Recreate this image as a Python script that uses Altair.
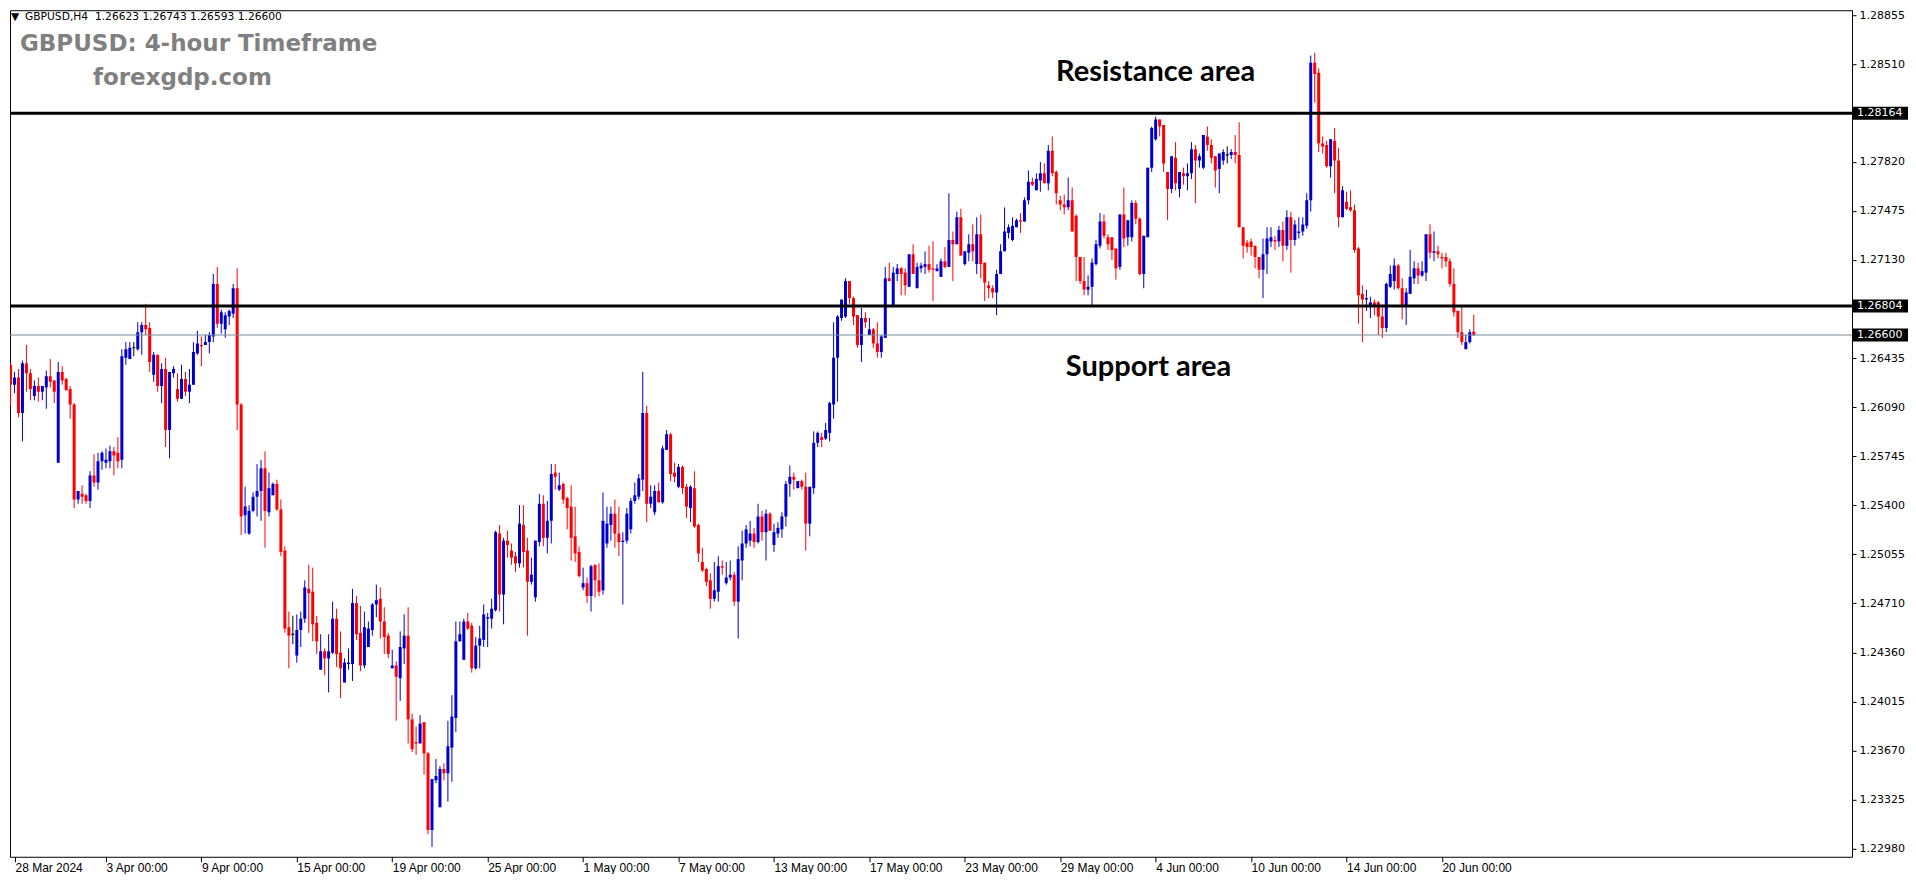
import altair as alt
import pandas as pd

# ---- candle data: pips above 1.2000 (value / 10000 + 1.2 = price) ----
OPEN = [
    639, 625, 630, 605, 640, 633, 617, 624, 620, 623,
    631, 628, 570, 634, 629, 622, 611, 544, 548, 547,
    543, 561, 556, 571, 570, 571, 578, 577, 572, 644,
    643, 651, 650, 662, 667, 665, 632, 646, 624, 636,
    593, 633, 622, 615, 629, 620, 625, 647, 653, 653,
    655, 659, 696, 668, 664, 673, 675, 693, 611, 533,
    520, 536, 546, 550, 566, 535, 547, 555, 537, 508,
    454, 449, 434, 452, 460, 481, 479, 457, 424, 437,
    432, 436, 460, 436, 415, 428, 428, 471, 450, 427,
    440, 452, 470, 474, 458, 448, 425, 427, 418, 439,
    448, 389, 373, 372, 387, 365, 311, 346, 327, 354,
    351, 369, 390, 444, 431, 458, 455, 425, 441, 445,
    460, 460, 466, 520, 477, 515, 508, 504, 499, 526,
    508, 486, 475, 514, 541, 517, 529, 563, 551, 555,
    545, 539, 518, 507, 482, 485, 476, 498, 487, 480,
    513, 526, 534, 520, 514, 515, 523, 543, 546, 558,
    605, 541, 535, 550, 542, 579, 590, 563, 553, 567,
    553, 538, 552, 526, 500, 495, 487, 474, 479, 497,
    485, 489, 491, 472, 501, 513, 515, 520, 514, 532,
    521, 534, 512, 520, 523, 532, 555, 560, 552, 557,
    553, 527, 552, 584, 588, 587, 591, 611, 644, 672,
    673, 698, 686, 674, 653, 672, 660, 664, 654, 648,
    658, 700, 680, 703, 707, 704, 694, 717, 693, 707,
    708, 710, 707, 705, 701, 712, 708, 727, 724, 743,
    710, 718, 724, 710, 731, 711, 695, 693, 690, 703,
    719, 732, 727, 736, 741, 740, 755, 768, 762, 769,
    774, 767, 790, 775, 755, 752, 750, 755, 744, 715,
    698, 692, 694, 710, 723, 740, 729, 729, 721, 708,
    745, 729, 729, 753, 742, 703, 729, 778, 798, 812,
    808, 775, 763, 785, 763, 774, 772, 774, 791, 783,
    778, 800, 794, 786, 777, 783, 787, 787, 789, 787,
    736, 725, 726, 723, 715, 706, 717, 726, 727, 726,
    734, 723, 743, 727, 732, 733, 737, 755, 852, 845,
    795, 794, 779, 797, 783, 743, 754, 750, 748, 721,
    689, 685, 681, 683, 683, 673, 665, 694, 698, 709,
    693, 680, 689, 700, 707, 702, 704, 731, 718, 719,
    715, 715, 712, 696, 677, 662, 650, 655, 662.3,
]
HIGH = [
    640, 634, 636, 642, 653, 636, 628, 630, 624, 635,
    643, 628, 641, 638, 630, 624, 612, 550, 554, 548,
    564, 576, 577, 578, 580, 582, 581, 588, 650, 655,
    655, 655, 669, 669, 682, 669, 648, 646, 640, 644,
    634, 638, 633, 639, 634, 636, 655, 663, 659, 660,
    662, 703, 708, 678, 676, 678, 696, 707, 612, 553,
    540, 549, 569, 572, 578, 563, 556, 558, 544, 511,
    465, 462, 463, 465, 487, 498, 496, 462, 449, 439,
    449, 472, 467, 451, 432, 439, 481, 476, 469, 465,
    458, 471, 484, 482, 468, 450, 438, 430, 451, 463,
    468, 393, 384, 392, 387, 366, 347, 361, 356, 358,
    388, 406, 458, 458, 460, 464, 457, 447, 455, 470,
    464, 474, 522, 526, 517, 522, 513, 507, 540, 540,
    517, 503, 515, 548, 547, 543, 569, 569, 563, 556,
    546, 554, 539, 511, 496, 489, 498, 498, 499, 549,
    539, 539, 544, 539, 521, 538, 545, 556, 562, 634,
    610, 554, 554, 556, 582, 593, 591, 570, 569, 568,
    555, 554, 564, 527, 510, 496, 492, 500, 504, 501,
    500, 501, 493, 511, 522, 526, 529, 524, 541, 536,
    537, 535, 527, 528, 535, 557, 568, 563, 557, 558,
    563, 553, 592, 592, 591, 598, 613, 669, 674, 685,
    700, 698, 687, 674, 679, 676, 672, 665, 669, 660,
    708, 711, 708, 710, 708, 707, 717, 724, 711, 711,
    719, 723, 726, 710, 714, 722, 760, 733, 747, 749,
    719, 731, 738, 743, 745, 711, 698, 695, 706, 724,
    750, 738, 743, 742, 746, 757, 776, 771, 774, 782,
    781, 794, 800, 776, 758, 759, 771, 764, 745, 715,
    715, 702, 714, 727, 746, 745, 731, 729, 721, 745,
    764, 741, 755, 755, 743, 730, 778, 807, 814, 812,
    808, 775, 786, 796, 775, 778, 781, 796, 794, 788,
    801, 807, 798, 786, 788, 791, 793, 791, 801, 810,
    736, 727, 728, 723, 715, 728, 736, 736, 730, 737,
    740, 748, 747, 741, 743, 743, 760, 857, 859, 848,
    800, 797, 798, 806, 792, 765, 761, 762, 752, 722,
    695, 692, 687, 685, 684, 680, 697, 709, 714, 710,
    700, 693, 720, 712, 711, 712, 731, 738, 733, 723,
    718, 718, 714, 707, 677, 681, 660, 664, 674.3,
]
LOW = [
    610, 619, 602, 585, 620, 614, 614, 613, 614, 608,
    623, 612, 570, 625, 621, 601, 538, 541, 541, 541,
    538, 553, 551, 565, 566, 566, 561, 566, 566, 639,
    643, 645, 649, 646, 660, 634, 627, 620, 612, 581,
    573, 630, 613, 615, 617, 612, 625, 646, 638, 653,
    647, 655, 665, 661, 658, 667, 672, 593, 519, 520,
    519, 535, 532, 529, 510, 532, 547, 536, 504, 450,
    425, 442, 429, 440, 457, 450, 444, 435, 424, 420,
    408, 435, 426, 404, 415, 424, 416, 445, 423, 425,
    440, 448, 461, 446, 435, 432, 425, 388, 402, 428,
    372, 366, 364, 372, 350, 308, 299, 344, 327, 346,
    331, 345, 380, 444, 431, 452, 422, 424, 425, 440,
    440, 453, 465, 465, 456, 503, 498, 493, 496, 496,
    448, 484, 472, 511, 511, 506, 513, 551, 550, 541,
    523, 501, 500, 489, 480, 471, 465, 475, 476, 477,
    510, 515, 510, 504, 470, 513, 520, 541, 544, 550,
    528, 538, 533, 542, 541, 579, 557, 556, 552, 548,
    531, 528, 524, 500, 493, 483, 467, 472, 472, 491,
    484, 487, 469, 446, 487, 510, 511, 510, 513, 515,
    501, 522, 507, 517, 517, 525, 546, 551, 552, 551,
    508, 518, 548, 581, 581, 586, 585, 601, 613, 670,
    672, 682, 667, 651, 641, 665, 660, 651, 644, 644,
    658, 698, 680, 698, 688, 688, 694, 703, 693, 704,
    703, 704, 684, 705, 701, 707, 708, 698, 724, 716,
    709, 712, 712, 703, 700, 684, 686, 686, 674, 703,
    719, 728, 726, 736, 732, 740, 752, 765, 762, 761,
    767, 762, 772, 752, 748, 745, 748, 733, 698, 696,
    688, 688, 681, 709, 721, 728, 720, 713, 699, 706,
    722, 723, 726, 738, 702, 693, 729, 775, 797, 800,
    775, 741, 760, 762, 757, 766, 762, 770, 753, 778,
    777, 790, 781, 764, 760, 780, 781, 784, 781, 736,
    714, 718, 716, 707, 700, 686, 703, 722, 720, 722,
    712, 720, 704, 723, 728, 730, 735, 747, 824, 789,
    788, 778, 771, 760, 736, 743, 748, 747, 718, 668,
    655, 677, 672, 674, 660, 658, 662, 693, 692, 692,
    671, 667, 689, 696, 696, 701, 698, 714, 712, 714,
    707, 708, 694, 673, 658, 653, 650, 654, 659.3,
]
CLOSE = [
    625, 630, 605, 640, 633, 622, 624, 620, 624, 631,
    627, 620, 634, 628, 621, 611, 544, 550, 546, 543,
    561, 556, 571, 577, 572, 578, 575, 571, 645, 650,
    651, 651, 662, 667, 664, 641, 646, 624, 636, 593,
    634, 636, 615, 629, 620, 625, 648, 654, 652, 655,
    660, 696, 668, 676, 674, 677, 693, 611, 532, 539,
    536, 546, 550, 566, 536, 552, 555, 537, 507, 453,
    448, 449, 452, 460, 482, 478, 456, 444, 437, 432,
    437, 460, 435, 425, 429, 429, 471, 449, 427, 454,
    453, 470, 473, 458, 447, 435, 427, 419, 440, 448,
    389, 368, 372, 386, 365, 311, 347, 349, 354, 351,
    370, 391, 444, 449, 458, 453, 425, 441, 446, 463,
    461, 467, 521, 477, 515, 512, 503, 499, 527, 507,
    486, 491, 515, 541, 517, 529, 562, 560, 554, 544,
    538, 517, 506, 490, 485, 476, 497, 487, 479, 529,
    527, 534, 520, 514, 515, 534, 543, 547, 559, 605,
    541, 546, 550, 542, 580, 590, 562, 560, 567, 552,
    539, 553, 525, 506, 494, 486, 474, 480, 497, 496,
    489, 491, 472, 502, 513, 523, 520, 514, 532, 521,
    534, 522, 521, 524, 532, 555, 560, 558, 557, 553,
    527, 553, 584, 591, 586, 593, 612, 644, 673, 685,
    698, 686, 673, 653, 672, 669, 664, 654, 648, 659,
    700, 698, 704, 707, 703, 695, 717, 703, 708, 709,
    710, 706, 706, 707, 712, 708, 727, 724, 743, 716,
    719, 724, 719, 731, 710, 697, 693, 690, 703, 719,
    733, 736, 737, 741, 740, 755, 768, 766, 770, 774,
    767, 790, 774, 760, 752, 750, 755, 733, 715, 698,
    692, 694, 711, 724, 740, 730, 724, 720, 707, 745,
    728, 741, 753, 742, 703, 730, 778, 806, 812, 807,
    781, 763, 786, 767, 775, 772, 774, 791, 783, 786,
    801, 794, 785, 776, 788, 789, 787, 789, 787, 736,
    723, 722, 722, 715, 706, 717, 728, 729, 726, 734,
    723, 743, 727, 738, 733, 738, 755, 852, 844, 795,
    793, 779, 798, 783, 743, 762, 749, 748, 720, 688,
    685, 686, 683, 681, 673, 665, 696, 703, 709, 693,
    680, 690, 701, 707, 702, 705, 731, 718, 719, 717,
    714, 712, 696, 676, 662, 655, 655, 662, 660.0,
]

DATE_TICKS = [0, 24, 48, 72, 96, 120, 144, 168, 192, 216, 240, 264, 288, 312, 336, 360]
DATE_LABELS = ["28 Mar 2024", "3 Apr 00:00", "9 Apr 00:00", "15 Apr 00:00", "19 Apr 00:00",
               "25 Apr 00:00", "1 May 00:00", "7 May 00:00", "13 May 00:00", "17 May 00:00",
               "23 May 00:00", "29 May 00:00", "4 Jun 00:00", "10 Jun 00:00", "14 Jun 00:00",
               "20 Jun 00:00"]
PRICE_TICKS = [1.28855, 1.28510, 1.27820, 1.27475, 1.27130, 1.26435, 1.26090, 1.25745,
               1.25400, 1.25055, 1.24710, 1.24360, 1.24015, 1.23670, 1.23325, 1.22980]
LEVELS = [1.28164, 1.26804]          # resistance, support
ANN_TEXT = ["Resistance area", "Support area"]
ANN_I = [288.0, 286.2]
ANN_P = [1.28388, 1.26309]

n = len(CLOSE)
assert len(OPEN) == n and len(HIGH) == n and len(LOW) == n, (len(OPEN), len(HIGH), len(LOW), n)

rows = []
for i in range(n):
    o = 1.2 + OPEN[i] / 10000
    c = 1.2 + CLOSE[i] / 10000
    h = max(1.2 + HIGH[i] / 10000, o, c)
    l = min(1.2 + LOW[i] / 10000, o, c)
    top, bot = max(o, c), min(o, c)
    if top - bot < 0.00008:
        mid = (top + bot) / 2
        top, bot = mid + 0.00004, mid - 0.00004
    d = "up" if c > o else ("down" if c < o else "doji")
    rows.append(dict(i=i, o=o, h=h, l=l, c=c, btop=top, bbot=bot, dir=d))
df = pd.DataFrame(rows)

last = df.iloc[-1]
CURRENT = round(last["c"], 5)
header = "GBPUSD,H4\u00a0\u00a0" + " ".join(f"{last[k]:.5f}" for k in ["o", "h", "l", "c"])

W, H = 1843, 847
PX_PER_UNIT = 14190.0                      # pixels per 1.0 of price
YMAX = 1.28890
YMIN = YMAX - H / PX_PER_UNIT
XMIN = 1.125                               # 4 px per candle
XMAX = XMIN + W / 4

ticks = [max(t, XMIN) for t in DATE_TICKS]
xs = alt.Scale(domain=[XMIN, XMAX], nice=False, zero=False)
ys = alt.Scale(domain=[YMIN, YMAX], nice=False, zero=False)
labels_js = "[" + ",".join("'" + s + "'" for s in DATE_LABELS) + "]"
xaxis = alt.Axis(values=ticks, labelExpr=labels_js + "[round(datum.value / 24)]",
                 title=None, grid=False, domain=False, tickSize=5, tickColor="black",
                 labelAlign="left", labelBaseline="top", labelPadding=1,
                 labelFont="Liberation Sans", labelFontSize=12, labelColor="black",
                 labelFlush=False, labelOverlap=False)
yaxis = alt.Axis(orient="right", values=PRICE_TICKS, format=".5f", title=None, grid=False,
                 domain=False, tickSize=4, tickColor="black", labelPadding=3,
                 labelFont="DejaVu Sans", labelFontSize=11, labelColor="black",
                 labelFlush=False, labelOverlap=False)

cscale = alt.Scale(domain=["up", "down", "doji"], range=["#0000CD", "#FF0000", "#000000"])
X = alt.X("i:Q", scale=xs, axis=xaxis)
COL = alt.Color("dir:N", scale=cscale, legend=None)

base = alt.Chart(df)
wicks = base.mark_rule(strokeWidth=1, clip=True).encode(
    x=X, y=alt.Y("l:Q", scale=ys, axis=yaxis), y2="h:Q", color=COL)
bodies = base.mark_bar(size=3, clip=True).encode(
    x=X, y=alt.Y("bbot:Q", scale=ys, axis=yaxis), y2="btop:Q", color=COL)

lev = alt.Chart(pd.DataFrame({"p": LEVELS})).mark_rule(color="black", strokeWidth=3).encode(
    y=alt.Y("p:Q", scale=ys, axis=yaxis))
cur = alt.Chart(pd.DataFrame({"p": [CURRENT]})).mark_rule(color="#778899", strokeWidth=1).encode(
    y=alt.Y("p:Q", scale=ys, axis=yaxis))

half = 6.5 / PX_PER_UNIT
hl_p = LEVELS + [CURRENT]
hl = pd.DataFrame({"p": hl_p, "top": [p + half for p in hl_p], "bot": [p - half for p in hl_p],
                   "label": [f"{p:.5f}" for p in hl_p]})
hl_box = alt.Chart(hl).mark_rect(color="black").encode(
    x=alt.value(W + 1), x2=alt.value(W + 56),
    y=alt.Y("top:Q", scale=ys, axis=yaxis), y2="bot:Q")
hl_txt = alt.Chart(hl).mark_text(align="left", baseline="middle", color="white",
                                 font="DejaVu Sans", fontSize=11).encode(
    x=alt.value(W + 5), y=alt.Y("p:Q", scale=ys, axis=yaxis), text="label:N")

ann = alt.Chart(pd.DataFrame({"i": ANN_I, "p": ANN_P, "t": ANN_TEXT})).mark_text(
    font="Lato", fontWeight="bold", fontSize=29, color="black", align="center",
    baseline="alphabetic").encode(x=X, y=alt.Y("p:Q", scale=ys, axis=yaxis), text="t:N")

TITLES = pd.DataFrame({"t": ["GBPUSD: 4-hour Timeframe", "forexgdp.com"],
                       "px": [10, 83], "py": [41, 75]})
titles = alt.Chart(TITLES).mark_text(font="DejaVu Sans", fontWeight="bold", fontSize=23,
                                     color="#808080", align="left", baseline="alphabetic").encode(
    x=alt.X("px:Q", scale=None), y=alt.Y("py:Q", scale=None), text="t:N")

HEAD = pd.DataFrame({"t": ["\u25bc", header], "px": [1, 15], "py": [10, 10]})
head = alt.Chart(HEAD).mark_text(font="DejaVu Sans", fontSize=10.7, color="black",
                                 align="left", baseline="alphabetic").encode(
    x=alt.X("px:Q", scale=None), y=alt.Y("py:Q", scale=None), text="t:N")

chart = alt.layer(wicks, bodies, lev, cur, hl_box, hl_txt, ann, titles, head).properties(
    width=W, height=H, padding=0, background="white"
).configure_view(stroke="black", strokeWidth=1)

chart.save("out.html", embed_options={"renderer": "svg", "actions": False})
